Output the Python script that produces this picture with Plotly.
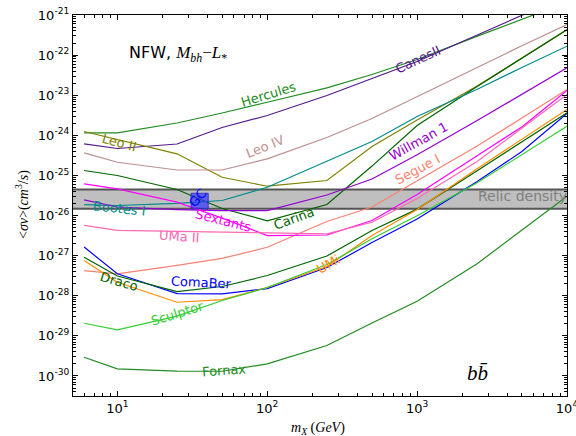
import plotly.graph_objects as go

# ---------------- data ----------------
MASS = [6, 10, 25, 50, 100, 250, 500, 1000, 2500, 5000, 10000]

HERCULES = [1.15e-24, 1.15e-24, 2.03e-24, 3.6e-24, 6.68e-24, 1.53e-23, 3.28e-23, 7.76e-23, 2.94e-22, 7.82e-22, 2.07e-21]
CANESII = [6.14e-25, 4.69e-25, 6.07e-25, 1.57e-24, 3.12e-24, 9.84e-24, 2.61e-23, 6.92e-23, 3.13e-22, 9.77e-22, 3.09e-21]
LEOII = [1.245e-24, 7.94e-25, 3.46e-25, 9.0e-26, 5.38e-26, 7.46e-26, 5.25e-25, 2.41e-24, 1.667e-23, 8.47e-23, 4.35e-22]
LEOIV = [3.66e-25, 2.13e-25, 1.365e-25, 1.365e-25, 2.59e-25, 8.81e-25, 2.62e-24, 9.29e-24, 4.91e-23, 1.706e-22, 5.79e-22]
CARINA = [1.324e-25, 9.95e-26, 4.47e-26, 1.5e-26, 7.4e-27, 1.88e-26, 1.71e-25, 1.75e-24, 1.62e-23, 8.3e-23, 4.27e-22]
BOOTES = [1.88e-26, 1.78e-26, 2.0e-26, 2.37e-26, 5.08e-26, 2.22e-25, 7.0e-25, 2.94e-24, 1.387e-23, 4.91e-23, 1.667e-22]
WILLMAN = [2.46e-26, 1.63e-26, 1.41e-26, 1.33e-26, 1.33e-26, 3.24e-26, 8.13e-26, 3.27e-25, 2.3e-24, 1.047e-23, 4.82e-23]
SEGUE = [4.25e-28, 3.52e-28, 5.71e-28, 8.51e-28, 1.62e-27, 7.08e-27, 1.63e-26, 7.38e-26, 5.32e-25, 2.70e-24, 1.387e-23]
SEXTANS = [6.18e-26, 4.63e-26, 2.15e-26, 8.6e-27, 3.17e-27, 3.27e-27, 7.5e-27, 3.34e-26, 3.07e-25, 1.62e-24, 1.318e-23]
UMAII = [5.66e-27, 4.25e-27, 4.01e-27, 3.89e-27, 3.77e-27, 3.5e-27, 6.81e-27, 2.65e-26, 2.2e-25, 1.503e-24, 1.047e-23]
COMABER = [1.637e-27, 3.52e-28, 1.135e-28, 1.114e-28, 1.51e-28, 5.05e-28, 2.12e-27, 8.22e-27, 6.92e-26, 3.94e-25, 3.5e-24]
DRACO = [9.12e-28, 3.1e-28, 1.274e-28, 1.7e-28, 3.19e-28, 9.77e-28, 4.23e-27, 1.445e-26, 1.294e-25, 6.84e-25, 3.64e-24]
UMI = [7.59e-28, 2.17e-28, 6.89e-29, 8.04e-29, 1.6e-28, 5.35e-28, 3.17e-27, 1.41e-26, 1.452e-25, 7.94e-25, 4.4e-24]
SCULPTOR = [2.06e-29, 1.41e-29, 3.09e-29, 7.59e-29, 1.6e-28, 6.0e-28, 2.63e-27, 9.82e-27, 6.46e-26, 3.28e-25, 1.686e-24]
FORNAX = [2.92e-30, 1.503e-30, 1.324e-30, 1.31e-30, 2.0e-30, 5.73e-30, 2.1e-29, 7.3e-29, 6.18e-28, 4.43e-27, 3.03e-26]

RELIC_LO, RELIC_HI = 1.47e-26, 4.45e-26
BAND_X = [4, 20000]
GC_X = [31, 40.4]
GC_Y = [1.47e-26, 3.6e-26]

X_EXP = [1, 2, 3, 4]
Y_EXP = list(range(-30, -20))
X_TICKS = [10.0 ** e for e in X_EXP]
Y_TICKS = [10.0 ** e for e in Y_EXP]
X_TICKTEXT = ["10<sup>%d</sup>" % e for e in X_EXP]
Y_TICKTEXT = ["10<sup>%d</sup>" % e for e in Y_EXP]

# name, data, colour, label pixel centre (x, y), label angle
SERIES = [
    ("Hercules", HERCULES, "#228B22", (268, 94), -17),
    ("CanesII", CANESII, "#551A8B", (418, 59), -25),
    ("Leo II", LEOII, "#808000", (119, 142), 15),
    ("Leo IV", LEOIV, "#BC8F8F", (265, 146), -22),
    ("Carina", CARINA, "#006400", (294, 219), -20),
    ("Bootes I", BOOTES, "#008B8B", (119, 208), 6),
    ("Willman 1", WILLMAN, "#9400D3", (418, 141), -29),
    ("Segue I", SEGUE, "#FA8072", (417, 169), -28),
    ("Sextants", SEXTANS, "#FF00FF", (223, 220), 14),
    ("UMa II", UMAII, "#FF69B4", (179, 236), 4),
    ("ComaBer", COMABER, "#0000FF", (201, 282), 3),
    ("Draco", DRACO, "#006400", (119, 281), 16),
    ("UMi", UMI, "#FF8C00", (328, 264), -30),
    ("Sculptor", SCULPTOR, "#32CD32", (177, 313), -17),
    ("Fornax", FORNAX, "#228B22", (224, 370), -4),
]

# ---------------- layout geometry ----------------
W, H = 576, 436
ML, MR, MT, MB = 73, 9, 15, 40
PW, PH = W - ML - MR, H - MT - MB


def pos(px, py):
    return (px - ML) / PW, (H - MB - py) / PH


fig = go.Figure()

# relic density band
fig.add_trace(go.Scatter(
    x=[BAND_X[0], BAND_X[1], BAND_X[1], BAND_X[0], BAND_X[0]],
    y=[RELIC_LO, RELIC_LO, RELIC_HI, RELIC_HI, RELIC_LO],
    mode="lines", fill="toself", fillcolor="#BFBFBF",
    line=dict(color="#555555", width=2), hoverinfo="skip", showlegend=False))

for name, vals, col, _, _ in SERIES:
    fig.add_trace(go.Scatter(x=MASS, y=vals, mode="lines", name=name,
                             line=dict(color=col, width=1.2), showlegend=False))

# GC box
fig.add_trace(go.Scatter(
    x=[GC_X[0], GC_X[1], GC_X[1], GC_X[0], GC_X[0]],
    y=[GC_Y[0], GC_Y[0], GC_Y[1], GC_Y[1], GC_Y[0]],
    mode="lines", fill="toself", fillcolor="rgba(40,40,255,0.65)",
    line=dict(color="rgba(40,40,200,0.8)", width=1), hoverinfo="skip", showlegend=False))

ann = []
for name, vals, col, (px, py), ang in SERIES:
    x, y = pos(px, py)
    ann.append(dict(x=x, y=y, xref="paper", yref="paper", text=name, showarrow=False,
                    textangle=ang, font=dict(family="DejaVu Sans", size=13, color=col),
                    xanchor="center", yanchor="middle"))


def add_text(px, py, text, size, color="black", family="DejaVu Sans", angle=0):
    x, y = pos(px, py)
    ann.append(dict(x=x, y=y, xref="paper", yref="paper", text=text, showarrow=False,
                    textangle=angle, font=dict(family=family, size=size, color=color),
                    xanchor="center", yanchor="middle"))


add_text(522, 196, "Relic density", 14, "#7F7F7F")
add_text(197, 198, "GC", 13, "#0000FF", angle=-50)
add_text(178, 54, "NFW, <span style=\"font-family:'Liberation Serif'; font-size:17px\"><i>M</i><sub><i>bh</i></sub>−<i>L</i><sub>*</sub></span>", 16)
add_text(477, 373, "<i>bb̄</i>", 21, family="Liberation Serif")
add_text(318, 428, "<i>m</i><sub><i>X</i></sub> (<i>GeV</i>)", 14, family="Liberation Serif")
add_text(22, 205, "&lt;<i>σv</i>&gt;(<i>cm</i><sup>3</sup>/<i>s</i>)", 14, family="Liberation Serif", angle=-90)

x_minor = [m * 10 ** e for e in range(0, 4) for m in range(2, 10)]
y_minor = [m * 10.0 ** e for e in range(-31, -21) for m in range(2, 10)]

axis_common = dict(type="log", showgrid=False, zeroline=False, showline=True,
                   linecolor="black", linewidth=1.3, mirror="ticks",
                   ticks="inside", ticklen=5, tickwidth=1, tickcolor="black",
                   tickmode="array", automargin=False, ticklabeloverflow="allow",
                   tickfont=dict(family="DejaVu Sans", size=13, color="black"))

fig.update_xaxes(**axis_common, range=[0.704, 4], tickvals=X_TICKS, ticktext=X_TICKTEXT,
                 minor=dict(tickmode="array", tickvals=x_minor, ticks="inside",
                            ticklen=3, tickcolor="black", showgrid=False))
fig.update_yaxes(**axis_common, range=[-30.5, -21], tickvals=Y_TICKS, ticktext=Y_TICKTEXT,
                 minor=dict(tickmode="array", tickvals=y_minor, ticks="inside",
                            ticklen=3, tickcolor="black", showgrid=False))

fig.update_layout(width=W, height=H, margin=dict(l=ML, r=MR, t=MT, b=MB),
                  paper_bgcolor="white", plot_bgcolor="white",
                  annotations=ann, showlegend=False,
                  font=dict(family="DejaVu Sans"))

fig.write_html("out.html", config={"displayModeBar": False},
               post_script="document.body.style.margin='0';document.body.style.overflow='hidden';")
